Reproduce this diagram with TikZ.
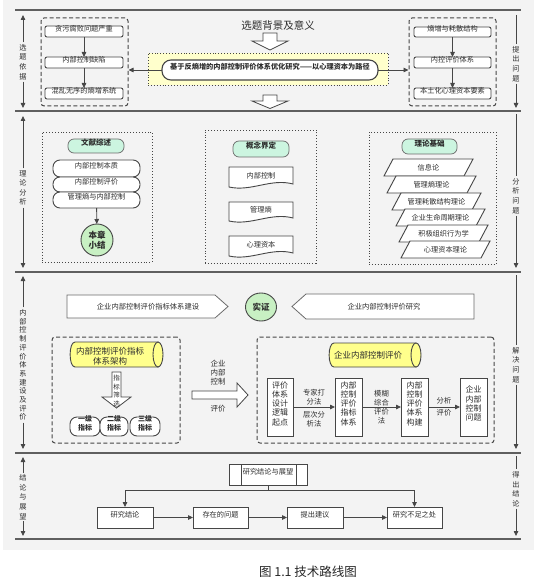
\documentclass[tikz,border=0pt]{standalone}
\usepackage{fontspec}
\setmainfont{Noto Sans CJK SC}
\usetikzlibrary{arrows.meta,shapes.geometric,fit,calc}
\definecolor{panel}{RGB}{243,243,243}
\definecolor{bdr}{RGB}{70,70,70}
\definecolor{txt}{RGB}{45,45,45}
\definecolor{rulec}{RGB}{95,95,95}
\definecolor{pillg}{RGB}{204,245,224}
\definecolor{circg}{RGB}{200,240,195}
\definecolor{ycyl}{RGB}{255,255,140}
\definecolor{ybox}{RGB}{255,255,204}
\newcommand\paral[4]{%
  \draw[parast] (#2,#3) -- ++(80,0) -- ++(9,-17) -- ++(-80,0) -- cycle;
  \node[base] (#1) at ({#2+44.5},{#3-8.5}) {#4};}
\newcommand\docshape[6]{%
  \draw[docst] (#2,#3) -- (#4,#3) -- ({#4},{#5-4}) .. controls ({#4-22},{#5-10}) and ({#2+22},{#5+4}) .. ({#2},{#5-1}) -- cycle;
  \node[base] (#1) at ({(#2+#4)/2},{(#3+#5)/2-2}) {#6};}
\begin{document}
\begin{tikzpicture}[x=1pt,y=-1pt,
  base/.style={inner sep=0pt, outer sep=0pt, align=center, text=txt, font=\fontsize{7.2}{8.6}\selectfont},
  rbox/.style={base, draw=bdr, line width=0.9pt, fill=white, rounded corners=2pt},
  sbox/.style={base, draw=bdr, line width=0.9pt, fill=white},
  stad/.style={base, draw=bdr, line width=0.9pt, fill=white, rounded corners=7pt},
  gpill/.style={base, draw=bdr!80, line width=0.7pt, fill=pillg, rounded corners=6pt, font=\bfseries\fontsize{7.5}{9}\selectfont},
  dashbox/.style={draw=bdr, line width=1pt, dash pattern=on 4pt off 2.5pt, rounded corners=3pt, inner sep=0pt},
  dotbox/.style={draw=bdr, line width=0.9pt, dotted, inner sep=0pt},
  arr/.style={draw=bdr, line width=0.8pt, -{Triangle[length=5pt,width=4.5pt]}},
  ln/.style={draw=bdr, line width=0.8pt},
  slab/.style={base, inner sep=2pt, font=\fontsize{7.2}{9.6}\selectfont},
  rule/.style={draw=rulec, line width=1.3pt},
  harr/.style={draw=bdr, line width=0.8pt, fill=white},
  pent/.style={draw=bdr!80, line width=0.8pt, fill=white},
  parast/.style={draw=bdr, line width=0.9pt, fill=white},
  docst/.style={draw=bdr, line width=0.9pt, fill=white},
  cylst/.style={draw=bdr, line width=0.9pt, fill=ycyl},
  vbox/.style={sbox, font=\fontsize{8}{9.3}\selectfont},
  small/.style={base, font=\fontsize{7.3}{8.6}\selectfont}
]
\useasboundingbox (0,0) rectangle (534,585);
\fill[panel] (3,0) rectangle (534,550);
% rules
\draw[rule] (15,10) -- (521,10);
\draw[rule] (15,111) -- (521,111);
\draw[rule] (15,272) -- (521,272);
\draw[rule] (15,453) -- (521,453);
\draw[rule] (15,539) -- (521,539);

% side labels
\node[slab] (sl1) at (23,62) {选\\题\\依\\据};
\coordinate (sl1t) at (23,15); \coordinate (sl1b) at (23,108);
\draw[arr] (sl1) -- (sl1t); \draw[arr] (sl1) -- (sl1b);
\node[slab] (sr1) at (516,64) {提\\出\\问\\题};
\coordinate (sr1t) at (516,15); \coordinate (sr1b) at (516,108);
\draw[ln] (sr1t) -- (sr1); \draw[arr] (sr1) -- (sr1b);

\node[slab] (sl2) at (23,188) {理\\论\\分\\析};
\coordinate (sl2t) at (23,116); \coordinate (sl2b) at (23,268);
\draw[arr] (sl2) -- (sl2t); \draw[arr] (sl2) -- (sl2b);
\node[slab] (sr2) at (516,196) {分\\析\\问\\题};
\coordinate (sr2t) at (516,114); \coordinate (sr2b) at (516,268);
\draw[ln] (sr2t) -- (sr2); \draw[arr] (sr2) -- (sr2b);

\node[slab, font=\fontsize{7.2}{8.7}\selectfont] (sl3) at (23,365) {内\\部\\控\\制\\评\\价\\体\\系\\建\\设\\及\\评\\价};
\coordinate (sl3t) at (23,276); \coordinate (sl3b) at (23,449);
\draw[arr] (sl3) -- (sl3t); \draw[arr] (sl3) -- (sl3b);
\node[slab] (sr3) at (516,365) {解\\决\\问\\题};
\coordinate (sr3t) at (516,275); \coordinate (sr3b) at (516,449);
\draw[ln] (sr3t) -- (sr3); \draw[arr] (sr3) -- (sr3b);

\node[slab] (sl4) at (23,497) {结\\论\\与\\展\\望};
\coordinate (sl4t) at (23,457); \coordinate (sl4b) at (23,536);
\draw[arr] (sl4) -- (sl4t); \draw[arr] (sl4) -- (sl4b);
\node[slab] (sr4) at (516,489) {得\\出\\结\\论};
\coordinate (sr4t) at (516,456); \coordinate (sr4b) at (516,536);
\draw[ln] (sr4t) -- (sr4); \draw[arr] (sr4) -- (sr4b);

% ===== section 1
\node[base, font=\fontsize{10.5}{12}\selectfont] (bg) at (278,25) {选题背景及意义};
\draw[harr] (263,33) -- (277,33) -- (277,41) -- (288,41) -- (270,50) -- (252,41) -- (263,41) -- cycle;
\draw[harr] (263,95) -- (277,95) -- (277,101) -- (288,101) -- (270,108.5) -- (252,101) -- (263,101) -- cycle;
\node[dotbox, fill=ybox, fit={(148,53)(388,85)}] (yb) {};
\node[base, draw=bdr, line width=1.1pt, fill=white, rounded corners=9pt, font=\bfseries\fontsize{7.2}{8.6}\selectfont, fit={(162,60)(378,80)}] (topic) {基于反熵增的内部控制评价体系优化研究——以心理资本为路径};

\node[dashbox, fit={(41,18)(128,106)}] (ld) {};
\node[rbox, fit={(45,26)(123,37)}] (l1) {贪污腐败问题严重};
\node[rbox, fit={(45,57)(123,68)}] (l2) {内部控制缺陷};
\node[rbox, fit={(45,88)(123,99)}] (l3) {混乱无序的熵增系统};
\draw[arr] (l1) -- (l2); \draw[arr] (l2) -- (l3);

\node[dashbox, fit={(409,18)(496,106)}] (rd) {};
\node[rbox, fit={(414,27)(491,37)}] (r1) {熵增与耗散结构};
\node[rbox, fit={(414,57)(491,68)}] (r2) {内控评价体系};
\node[rbox, fit={(414,88)(491,99)}] (r3) {本土化心理资本要素};
\draw[arr] (r1) -- (r2); \draw[arr] (r2) -- (r3);

\draw[arr] (topic.west) -- (topic.west -| ld.east);
\draw[arr] (topic.east) -- (topic.east -| rd.west);

% ===== section 2
\node[dotbox, fit={(42,132)(152,262)}] (b21) {};
\node[gpill, fit={(68,139)(124,153)}] (wx) {文献综述};
\node[stad, fit={(53,160)(140,177)}] (w1) {内部控制本质};
\node[stad, fit={(53,177)(140,192)}] (w2) {内部控制评价};
\node[stad, fit={(53,192)(140,208)}] (w3) {管理熵与内部控制};
\node[base, circle, draw=bdr, line width=0.9pt, fill=circg, minimum size=32pt, font=\bfseries\fontsize{8.5}{10}\selectfont] (bz) at (97,240) {本章\\小结};
\draw[arr] (w3) -- (bz);

\node[dotbox, fit={(205,130)(316,263)}] (b22) {};
\node[gpill, fit={(233,141)(289,157)}] (gn) {概念界定};
\docshape{d1}{229}{167}{293}{188}{内部控制}
\docshape{d2}{229}{202}{293}{222}{管理熵}
\docshape{d3}{229}{236}{293}{257}{心理资本}

\node[dotbox, fit={(369,132)(496,264)}] (b23) {};
\node[gpill, fit={(402,139)(457,154)}] (ll) {理论基础};
\paral{p1}{384}{176}{信息论}
\paral{p2}{387}{193}{管理熵理论}
\paral{p3}{392}{210}{管理耗散结构理论}
\paral{p4}{396}{226}{企业生命周期理论}
\paral{p5}{399}{242}{积极组织行为学}
\paral{p6}{401}{258}{心理资本理论}

% ===== section 3
\draw[pent] (67,295) -- (215,295) -- (228,306.5) -- (215,318) -- (67,318) -- cycle;
\node[small] (zb) at (148,306.5) {企业内部控制评价指标体系建设};
\node[base, ellipse, draw=bdr, line width=0.9pt, fill=circg, minimum width=31pt, minimum height=28pt, font=\bfseries\fontsize{8.5}{10}\selectfont] (sz) at (261,307) {实证};
\draw[pent] (474,294) -- (306,294) -- (292,306.5) -- (306,319) -- (474,319) -- cycle;
\node[small] (yj) at (384,306.5) {企业内部控制评价研究};

\node[dashbox, fit={(52,337)(180,443)}] (ld3) {};
\draw[cylst] (158,342) -- (75,342) .. controls (68.5,342) and (68.5,367) .. (75,367) -- (158,367) -- cycle;
\node[cylst, ellipse, minimum width=10pt, minimum height=25pt, inner sep=0pt] (ce1) at (158,354.5) {};
\node[base, font=\fontsize{8.5}{10}\selectfont] (cy1) at (110,356) {内部控制评价指标\\体系架构};
\draw[harr] (112,372) -- (121,372) -- (121,397) -- (131,397) -- (116.5,408) -- (102,397) -- (112,397) -- cycle;
\node[base, font=\fontsize{6.5}{8.8}\selectfont] (sx) at (116.5,391) {指\\标\\筛\\选};
\node[stad, font=\bfseries\fontsize{7}{8.6}\selectfont, fit={(70,417)(100,436)}] (s1) {一级\\指标};
\node[stad, font=\bfseries\fontsize{7}{8.6}\selectfont, fit={(100,417)(128,436)}] (s2) {二级\\指标};
\node[stad, font=\bfseries\fontsize{7}{8.6}\selectfont, fit={(130,417)(160,436)}] (s3) {三级\\指标};

\draw[harr] (192,391) -- (237,391) -- (237,383) -- (248,395) -- (237,407) -- (237,399) -- (192,399) -- cycle;
\node[base, font=\fontsize{7.5}{9}\selectfont] (mt) at (218,373) {企业\\内部\\控制};
\node[base, font=\fontsize{7.5}{9}\selectfont] (mb) at (218,409) {评价};

\node[dashbox, fit={(257,337)(494,443)}] (rd3) {};
\draw[cylst] (416,343) -- (334,343) .. controls (327.5,343) and (327.5,367) .. (334,367) -- (416,367) -- cycle;
\node[cylst, ellipse, minimum width=10pt, minimum height=24pt, inner sep=0pt] (ce2) at (416,355) {};
\node[base, font=\fontsize{8.5}{10}\selectfont] (cy2) at (368,355) {企业内部控制评价};
\node[vbox, fit={(267,378)(293,436)}] (v1) {评价\\体系\\设计\\逻辑\\起点};
\node[vbox, fit={(335,378)(362,436)}] (v2) {内部\\控制\\评价\\指标\\体系};
\node[vbox, fit={(401,378)(428,436)}] (v3) {内部\\控制\\评价\\体系\\构建};
\node[vbox, fit={(460,378)(487,436)}] (v4) {企业\\内部\\控制\\问题};
\draw[arr] (v1) -- (v2); \draw[arr] (v2) -- (v3); \draw[arr] (v3) -- (v4);
\node[small] (m1a) at (314,397) {专家打\\分法};
\node[small] (m1b) at (314,419) {层次分\\析法};
\node[small, font=\fontsize{7.3}{9}\selectfont] (m2) at (381.5,407) {模糊\\综合\\评价\\法};
\node[small] (m3a) at (444,401) {分析};
\node[small] (m3b) at (444,413) {评价};

% ===== section 4
\node[sbox, fit={(229,464)(307,485)}] (t4) {研究结论与展望};
\draw[ln] ($(t4.north west)+(12,0)$) -- ($(t4.south west)+(12,0)$);
\draw[ln] ($(t4.north east)+(-11,0)$) -- ($(t4.south east)+(-11,0)$);
\node[sbox, fit={(97,507)(153,528)}] (e1) {研究结论};
\node[sbox, fit={(193,507)(248,528)}] (e2) {存在的问题};
\node[sbox, fit={(287,507)(343,528)}] (e3) {提出建议};
\node[sbox, fit={(387,507)(442,528)}] (e4) {研究不足之处};
\draw[ln] (t4.south) -- ++(0,5) coordinate (j4);
\draw[arr] (j4) -| (e1.north);
\draw[arr] (j4) -| (e4.north);
\draw[arr] (e1) -- (e2); \draw[arr] (e2) -- (e3); \draw[arr] (e3) -- (e4);

\node[base, text=black!85, font=\fontsize{12.5}{14}\selectfont] (cap) at (308,572) {图 1.1 技术路线图};
\end{tikzpicture}
\end{document}
